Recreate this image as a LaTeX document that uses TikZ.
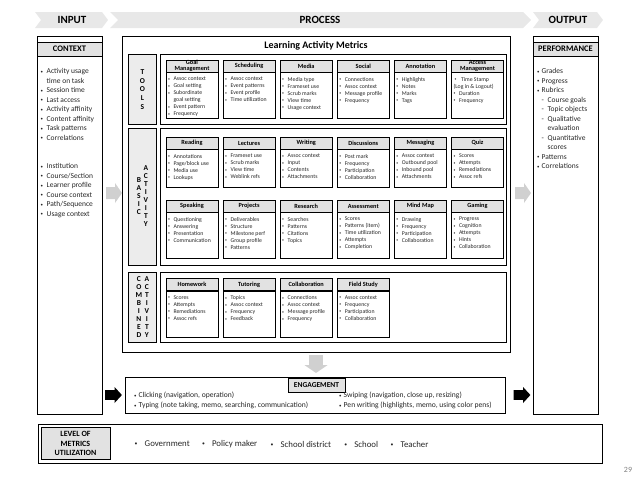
\documentclass[tikz,border=0pt]{standalone}
\usepackage{fontspec}
\usepackage{graphicx}
\setmainfont{Carlito}
\usetikzlibrary{positioning}

\definecolor{bannergray}{RGB}{232,232,232}
\definecolor{headgray}{RGB}{226,226,226}
\definecolor{sidegray}{RGB}{236,236,236}
\definecolor{arrowgray}{RGB}{208,208,208}
\definecolor{inkgray}{RGB}{38,38,38}

\tikzstyle{banner}=[fill=bannergray]
\tikzstyle{bannertext}=[inner sep=0pt, font=\fontsize{11}{12}\selectfont\bfseries]
\tikzstyle{frame}=[draw=black, line width=0.9pt, anchor=north west, inner sep=0pt]
\tikzstyle{section}=[draw=black, line width=0.8pt, anchor=north west, inner sep=0pt]
\tikzstyle{sidebox}=[section, fill=sidegray, minimum width=28pt, align=center, font=\fontsize{7.5}{8}\selectfont\bfseries]
\tikzstyle{header}=[draw=black, line width=0.8pt, fill=headgray, inner sep=0pt, align=center, font=\fontsize{8.5}{9.5}\selectfont\bfseries]
\tikzstyle{cardhead}=[draw=black, line width=0.6pt, fill=headgray, minimum width=52pt, minimum height=12pt, inner sep=0pt, align=center, font=\fontsize{6.3}{6}\selectfont\bfseries]
\tikzstyle{cardbody}=[draw=black, line width=0.6pt, inner xsep=2pt, inner ysep=4.5pt, text=inkgray, font=\fontsize{5.8}{7}\selectfont]
\tikzstyle{itemlist}=[anchor=north west, align=left, inner sep=0pt, text=inkgray, font=\fontsize{7.5}{9.5}\selectfont]
\tikzstyle{levelitem}=[inner sep=0pt, text=inkgray, font=\fontsize{8.8}{9}\selectfont]

\tikzset{blockarrow/.pic={\fill (-8,-6) -- (1,-6) -- (1,-10) -- (8,0) -- (1,10) -- (1,6) -- (-8,6) -- cycle;}}

\newcommand{\itm}[1][5.5pt]{\makebox[#1][l]{\raisebox{0.2ex}{\scalebox{0.65}{\textbullet}}}}
\newcommand{\subitm}{\hspace*{4.5pt}\makebox[6pt][l]{-}}
\newcommand{\subcnt}{\hspace*{10.5pt}}
\newcommand{\stack}[1]{\begin{tabular}[c]{@{}c@{}}#1\end{tabular}}
\newcommand{\card}[5]{%
  \node(#1)[cardhead, #2]{#3};
  \node(#1-body)[cardbody, below=0pt of #1]{\parbox[c][#4][t]{48pt}{#5}};
}

\begin{document}
\begin{tikzpicture}[x=1pt, y=-1pt]
\useasboundingbox (0,0) rectangle (638,479);

% banner
\fill[banner] (35,12) -- (102,12) -- (108,20) -- (102,28) -- (35,28) -- (41,20) -- cycle;
\fill[banner] (110,12) -- (523,12) -- (531,20) -- (523,28) -- (110,28) -- (118,20) -- cycle;
\fill[banner] (533,12) -- (597,12) -- (603,20) -- (597,28) -- (533,28) -- (539,20) -- cycle;
\node(input)[bannertext] at (72,20) {INPUT};
\node(proc)[bannertext] at (320,20) {PROCESS};
\node(output)[bannertext] at (568,20) {OUTPUT};

% input
\node(context)[frame, minimum width=65pt, minimum height=378pt] at (37,36) {};
\node(contexthd)[header, minimum width=65pt, minimum height=14pt] at (69.5,49) {CONTEXT};
\node(contextls)[itemlist] at (40.5,68.5) {\itm[6pt]Activity usage\\\hspace*{6pt}time on task\\\itm[6pt]Session time\\\itm[6pt]Last access\\\itm[6pt]Activity affinity\\\itm[6pt]Content affinity\\\itm[6pt]Task patterns\\\itm[6pt]Correlations\\[19pt]\itm[6pt]Institution\\\itm[6pt]Course/Section\\\itm[6pt]Learner profile\\\itm[6pt]Course context\\\itm[6pt]Path/Sequence\\\itm[6pt]Usage context};

% process
\node(process)[frame, minimum width=388pt, minimum height=316pt] at (122,36) {};
\node(title)[font=\fontsize{10}{11}\selectfont\bfseries] at (316,46) {Learning Activity Metrics};

\node(tools)[sidebox, minimum height=70pt, font=\fontsize{7.5}{8.7}\selectfont\bfseries] at (128,54) {T\\O\\O\\L\\S};
\node(toolsbox)[section, minimum width=346pt, minimum height=70pt] at (159.5,54) {};
\card{goal}{at={(192,66)}}{Goal\\Management}{37pt}{\itm Assoc context\\\itm Goal setting\\\itm Subordinate\\\hspace*{5.5pt}goal setting\\\itm Event pattern\\\itm Frequency}
\card{sched}{right=4.5pt of goal}{Scheduling}{37pt}{\itm Assoc context\\\itm Event patterns\\\itm Event profile\\\itm Time utilization}
\card{media}{right=4.5pt of sched}{Media}{37pt}{\itm Media type\\\itm Frameset use\\\itm Scrub marks\\\itm View time\\\itm Usage context}
\card{social}{right=4.5pt of media}{Social}{37pt}{\itm Connections\\\itm Assoc context\\\itm Message profile\\\itm Frequency}
\card{annot}{right=4.5pt of social}{Annotation}{37pt}{\itm Highlights\\\itm Notes\\\itm Marks\\\itm Tags}
\card{access}{right=4.5pt of annot}{Access\\Management}{37pt}{\hspace*{1pt}\itm[6.5pt]Time Stamp\\(Log in \& Logout)\\\itm Duration\\\itm Frequency}

\node(basic)[sidebox, minimum height=137pt] at (128,128) {\stack{B\\A\\S\\I\\C}\hspace{2.5pt}\stack{A\\C\\T\\I\\V\\I\\T\\Y}};
\node(basicbox)[section, minimum width=346pt, minimum height=137pt] at (159.5,128) {};
\card{read}{at={(192,143)}}{Reading}{29pt}{\itm Annotations\\\itm Page/block use\\\itm Media use\\\itm Lookups}
\card{lect}{right=4.5pt of read}{Lectures}{29pt}{\itm Frameset use\\\itm Scrub marks\\\itm View time\\\itm Weblink refs}
\card{writ}{right=4.5pt of lect}{Writing}{29pt}{\itm Assoc context\\\itm Input\\\itm Contents\\\itm Attachments}
\card{disc}{right=4.5pt of writ}{Discussions}{29pt}{\itm Post mark\\\itm Frequency\\\itm Participation\\\itm Collaboration}
\card{mess}{right=4.5pt of disc}{Messaging}{29pt}{\itm Assoc context\\\itm Outbound pool\\\itm Inbound pool\\\itm Attachments}
\card{quiz}{right=4.5pt of mess}{Quiz}{29pt}{\itm Scores\\\itm Attempts\\\itm Remediations\\\itm Assoc refs}
\card{speak}{at={(192,206)}}{Speaking}{37pt}{\itm Questioning\\\itm Answering\\\itm Presentation\\\itm Communication}
\card{proj}{right=4.5pt of speak}{Projects}{37pt}{\itm Deliverables\\\itm Structure\\\itm Milestone perf\\\itm Group profile\\\itm Patterns}
\card{rsch}{right=4.5pt of proj}{Research}{37pt}{\itm Searches\\\itm Patterns\\\itm Citations\\\itm Topics}
\card{assess}{right=4.5pt of rsch}{Assessment}{37pt}{\itm Scores\\\itm Patterns (item)\\\itm Time utilization\\\itm Attempts\\\itm Completion}
\card{mind}{right=4.5pt of assess}{Mind Map}{37pt}{\itm Drawing\\\itm Frequency\\\itm Participation\\\itm Collaboration}
\card{game}{right=4.5pt of mind}{Gaming}{37pt}{\itm Progress\\\itm Cognition\\\itm Attempts\\\itm Hints\\\itm Collaboration}

\node(comb)[sidebox, minimum height=70pt] at (128,272) {\stack{C\\O\\M\\B\\I\\N\\E\\D}\hspace{2.5pt}\stack{A\\C\\T\\I\\V\\I\\T\\Y}};
\node(combbox)[section, minimum width=346pt, minimum height=70pt] at (159.5,272) {};
\card{home}{at={(192,284.5)}}{Homework}{37.5pt}{\itm Scores\\\itm Attempts\\\itm Remediations\\\itm Assoc refs}
\card{tutor}{right=4.5pt of home}{Tutoring}{37.5pt}{\itm Topics\\\itm Assoc context\\\itm Frequency\\\itm Feedback}
\card{collab}{right=4.5pt of tutor}{Collaboration}{37.5pt}{\itm Connections\\\itm Assoc context\\\itm Message profile\\\itm Frequency}
\card{field}{right=4.5pt of collab}{Field Study}{37.5pt}{\itm Assoc context\\\itm Frequency\\\itm Participation\\\itm Collaboration}

% output
\node(perf)[frame, minimum width=65pt, minimum height=378pt] at (533,36) {};
\node(perfhd)[header, minimum width=65pt, minimum height=14pt] at (565.5,49) {PERFORMANCE};
\node(perfls)[itemlist] at (537,68.5) {\itm[4.5pt]Grades\\\itm[4.5pt]Progress\\\itm[4.5pt]Rubrics\\\subitm Course goals\\\subitm Topic objects\\\subitm Qualitative\\\subcnt evaluation\\\subitm Quantitative\\\subcnt scores\\\itm[4.5pt]Patterns\\\itm[4.5pt]Correlations};

% engagement
\node(engage)[frame, minimum width=380pt, minimum height=36pt] at (125,377) {};
\node(engagehd)[header, minimum width=57pt, minimum height=14pt, font=\fontsize{7.5}{8}\selectfont\bfseries] at (316.5,385) {ENGAGEMENT};
\node(engleft)[itemlist, font=\fontsize{7.6}{10}\selectfont] at (134,392) {\itm[4.5pt]Clicking (navigation, operation)\\\itm[4.5pt]Typing (note taking, memo, searching, communication)};
\node(engright)[itemlist, font=\fontsize{7.6}{10}\selectfont] at (339,392) {\itm[4.5pt]Swiping (navigation, close up, resizing)\\\itm[4.5pt]Pen writing (highlights, memo, using color pens)};

% arrows
\pic[color=arrowgray] at (114,193) {blockarrow};
\pic[color=arrowgray] at (523,193) {blockarrow};
\pic[color=arrowgray, rotate=-90, xscale=1.12, yscale=1.15] at (316,364) {blockarrow};
\pic[color=black, xscale=1.05, yscale=0.8] at (113.5,395) {blockarrow};
\pic[color=black, xscale=1.05, yscale=0.8] at (522,395) {blockarrow};

% utilization
\node(level)[frame, minimum width=564pt, minimum height=39pt] at (38,424) {};
\node(levelhd)[header, minimum width=69pt, minimum height=32pt, font=\fontsize{8}{9.5}\selectfont\bfseries] at (75.5,443.5) {LEVEL OF\\METRICS\\UTILIZATION};
\node(gov)[levelitem, anchor=west] at (134.5,444) {\itm[10pt]Government};
\node(policy)[levelitem, right=12pt of gov] {\itm[10pt]Policy maker};
\node(district)[levelitem, right=13pt of policy] {\itm[10pt]School district};
\node(school)[levelitem, right=13pt of district] {\itm[10pt]School};
\node(teacher)[levelitem, right=12pt of school] {\itm[10pt]Teacher};

\node(page)[text=gray, font=\fontsize{8}{9}\selectfont] at (628,470) {29};

\end{tikzpicture}
\end{document}
